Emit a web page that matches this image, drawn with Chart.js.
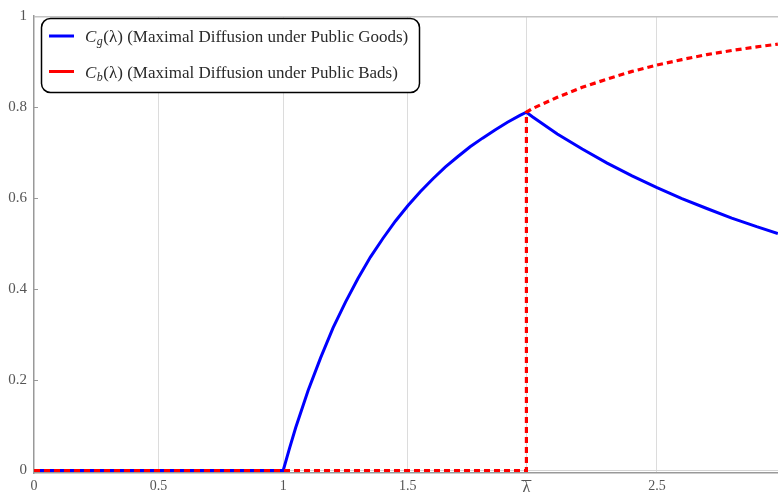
<!DOCTYPE html>
<html>
<head>
<meta charset="utf-8">
<script src="https://cdn.jsdelivr.net/npm/chart.js@4"></script>
<style>
html,body{margin:0;padding:0;background:#fff;}
#wrap{width:778px;height:500px;position:relative;}
</style>
</head>
<body>
<div id="wrap"><canvas id="c" width="778" height="500"></canvas></div>
<script>
// ---- data ----
const lambdaBar = 1.976;
const goodsX = [0, 1, 1.025, 1.05, 1.1, 1.15, 1.2, 1.25, 1.3, 1.35, 1.4, 1.45, 1.5, 1.55, 1.6, 1.65, 1.7, 1.75, 1.8, 1.85, 1.9, 1.95, 1.976, 2.0, 2.1, 2.2, 2.3, 2.4, 2.5, 2.6, 2.7, 2.8, 2.9, 2.985];
const goodsY = [0, 0, 0.048, 0.094, 0.176, 0.248, 0.314, 0.371, 0.423, 0.470, 0.511, 0.549, 0.583, 0.614, 0.642, 0.668, 0.691, 0.713, 0.732, 0.750, 0.767, 0.782, 0.789, 0.779, 0.741, 0.708, 0.677, 0.649, 0.623, 0.599, 0.577, 0.556, 0.537, 0.522];
const badsX = [0, 1.976, 1.976, 2.0, 2.1, 2.2, 2.3, 2.4, 2.5, 2.6, 2.7, 2.8, 2.9, 2.985];
const badsY = [0, 0, 0.789, 0.797, 0.822, 0.844, 0.862, 0.879, 0.893, 0.905, 0.916, 0.925, 0.933, 0.939];
const xTicks = [0, 0.5, 1, 1.5, lambdaBar, 2.5];
const yTicks = [0, 0.2, 0.4, 0.6, 0.8, 1];
const xTickLabels = ['0', '0.5', '1', '1.5', '\u03BB', '2.5'];
const yTickLabels = ['0', '0.2', '0.4', '0.6', '0.8', '1'];
const legendLabels = [
  {main: 'C', sub: 'g', rest: '(\u03BB) (Maximal Diffusion under Public Goods)', color: '#0000ff'},
  {main: 'C', sub: 'b', rest: '(\u03BB) (Maximal Diffusion under Public Bads)', color: '#ff0000'}
];

const SERIF = '"Liberation Serif", "DejaVu Serif", serif';

function pts(xs, ys){ return xs.map((x,i)=>({x:x, y:ys[i]})); }

const legendPlugin = {
  id: 'boxLegend',
  afterDraw(chart){
    const ctx = chart.ctx;
    ctx.save();
    const bx = 41.5, by = 18.5, bw = 378, bh = 74, r = 9;
    ctx.beginPath();
    ctx.roundRect(bx, by, bw, bh, r);
    ctx.fillStyle = '#ffffff';
    ctx.fill();
    ctx.lineWidth = 1.5;
    ctx.strokeStyle = '#000000';
    ctx.stroke();
    const rowsY = [36, 71.5];
    legendLabels.forEach((L, i) => {
      const y = rowsY[i];
      ctx.beginPath();
      ctx.moveTo(49, y);
      ctx.lineTo(74, y);
      ctx.lineWidth = 3;
      ctx.strokeStyle = L.color;
      ctx.stroke();
      ctx.fillStyle = '#2a2a2a';
      ctx.textBaseline = 'alphabetic';
      let x = 85;
      ctx.font = 'italic 17px ' + SERIF;
      ctx.fillText(L.main, x, y + 6);
      x += ctx.measureText(L.main).width + 0.5;
      ctx.font = 'italic 12px ' + SERIF;
      ctx.fillText(L.sub, x, y + 9);
      x += ctx.measureText(L.sub).width + 0.5;
      ctx.font = '17px ' + SERIF;
      ctx.fillText(L.rest, x, y + 6);
    });
    // inner tick marks on the left axis
    const ys = chart.scales.y;
    const left = chart.chartArea.left;
    ctx.strokeStyle = '#999999';
    ctx.lineWidth = 1;
    yTicks.forEach(v => {
      if (v === 0 || v === 1) return;
      const py = Math.round(ys.getPixelForValue(v)) + 0.5;
      ctx.beginPath();
      ctx.moveTo(left, py);
      ctx.lineTo(left + 4, py);
      ctx.stroke();
    });
    // overline for the lambda-bar tick label
    const xs = chart.scales.x;
    const lx = xs.getPixelForValue(lambdaBar);
    ctx.beginPath();
    ctx.moveTo(lx - 5, 480.5);
    ctx.lineTo(lx + 5, 480.5);
    ctx.strokeStyle = '#555555';
    ctx.lineWidth = 1;
    ctx.stroke();
    ctx.restore();
  }
};

new Chart(document.getElementById('c'), {
  type: 'line',
  data: {
    datasets: [
      {
        label: 'Cg(\u03BB) (Maximal Diffusion under Public Goods)',
        data: pts(goodsX, goodsY),
        borderColor: '#0000ff',
        borderWidth: 3,
        pointRadius: 0,
        fill: false,
        tension: 0,
        order: 2
      },
      {
        label: 'Cb(\u03BB) (Maximal Diffusion under Public Bads)',
        data: pts(badsX, badsY),
        borderColor: '#ff0000',
        borderWidth: 3.2,
        borderDash: [6, 4],
        pointRadius: 0,
        fill: false,
        tension: 0,
        order: 1
      }
    ]
  },
  options: {
    responsive: false,
    devicePixelRatio: 1,
    animation: false,
    layout: {padding: {top: 12, right: 0, left: 0, bottom: 0}},
    plugins: {legend: {display: false}, tooltip: {enabled: false}},
    scales: {
      x: {
        type: 'linear',
        min: 0,
        max: 2.9856,
        afterFit(s){ s.height = 27; },
        afterBuildTicks(s){ s.ticks = xTicks.map(v => ({value: v})); },
        ticks: {
          autoSkip: false,
          maxRotation: 0,
          padding: 5,
          color: '#555555',
          font(ctx){ return {family: SERIF, size: (ctx.tick && ctx.tick.value === lambdaBar) ? 16 : 14}; },
          callback(v){ const i = xTicks.indexOf(v); return i >= 0 ? xTickLabels[i] : ''; }
        },
        grid: {
          drawTicks: false,
          color(ctx){ return (ctx.tick && ctx.tick.value === 0) ? 'rgba(0,0,0,0)' : '#dcdcdc'; },
          lineWidth: 1
        },
        border: {display: true, color: '#999999', width: 1.5}
      },
      y: {
        type: 'linear',
        min: -0.0055,
        max: 1.001,
        afterFit(s){ s.width = 34; },
        afterBuildTicks(s){ s.ticks = yTicks.map(v => ({value: v})); },
        ticks: {
          autoSkip: false,
          padding: 7,
          color: '#555555',
          font: {family: SERIF, size: 15},
          callback(v){ const i = yTicks.indexOf(v); return i >= 0 ? yTickLabels[i] : ''; }
        },
        grid: {
          drawTicks: false,
          color(ctx){
            if (!ctx.tick) return 'rgba(0,0,0,0)';
            if (ctx.tick.value === 0) return '#d4d4d4';
            if (ctx.tick.value === 1) return '#c4c4c4';
            return 'rgba(0,0,0,0)';
          },
          lineWidth(ctx){ return (ctx.tick && ctx.tick.value === 1) ? 1.5 : 1; }
        },
        border: {display: true, color: '#999999', width: 1.5}
      }
    }
  },
  plugins: [legendPlugin]
});
</script>
</body>
</html>
